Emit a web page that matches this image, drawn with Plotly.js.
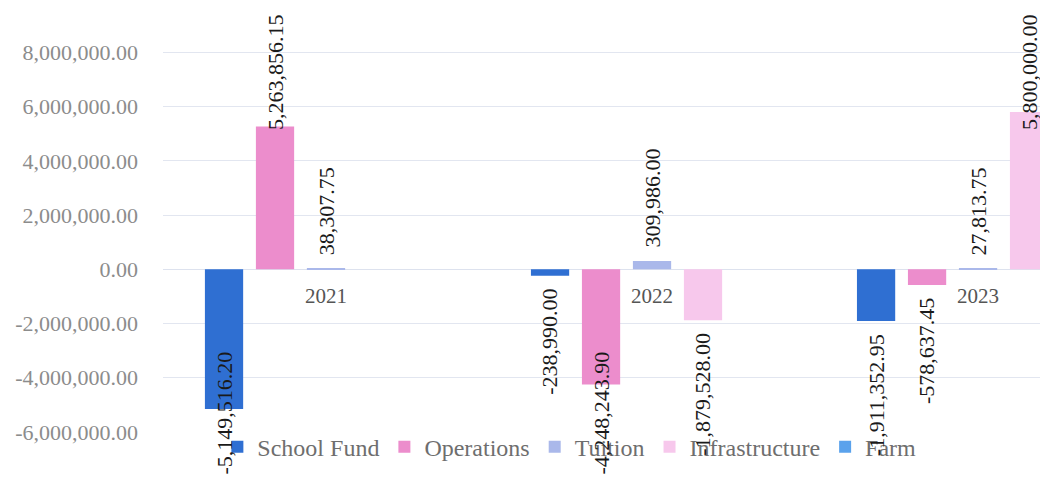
<!DOCTYPE html>
<html>
<head>
<meta charset="utf-8">
<script src="https://cdn.plot.ly/plotly-3.0.1.min.js"></script>
<style>
  html, body { margin: 0; padding: 0; background: #ffffff; }
  #chart { width: 1040px; height: 477px; }
</style>
</head>
<body>
<div id="chart"></div>
<script>
// ---- data ----
const years = ['2021', '2022', '2023'];
const seriesNames = ['School Fund', 'Operations', 'Tuition', 'Infrastructure', 'Farm'];
const schoolFund = [-5149516.20, -238990.00, -1911352.95];
const operations = [5263856.15, -4248243.90, -578637.45];
const tuition = [38307.75, 309986.00, 27813.75];
const infrastructure = [null, -1879528.00, 5800000.00];
const farm = [null, null, null];
const yTickValues = [-6000000, -4000000, -2000000, 0, 2000000, 4000000, 6000000, 8000000];

// ---- styling ----
const colors = ['#2f6fd2', '#ec8dcc', '#aab8ea', '#f7c8ec', '#5aa2ec'];
const seriesValues = [schoolFund, operations, tuition, infrastructure, farm];
const FAMILY = 'Liberation Serif';

const W = 1040, H = 477;
const margin = { l: 163, r: 0, t: 0, b: 45, pad: 0 };
const yRange = [-6000000, 9930000];
const xRange = [-0.5, 2.19];
const bargap = 0.218, bargroupgap = 0.25;
const LABEL_SIZE = 22;

const fmt = v => (v < 0 ? '-' : '') + Math.abs(v).toLocaleString('en-US', { minimumFractionDigits: 2, maximumFractionDigits: 2 });

const traces = seriesNames.map((name, i) => ({
  type: 'bar',
  name: name,
  x: years,
  y: seriesValues[i],
  marker: { color: colors[i], line: { width: 0 } },
  hoverinfo: 'skip'
}));

// value labels, placed from the data through the axis scales
const plotW = W - margin.l - margin.r;
const plotH = H - margin.t - margin.b;
const catPx = plotW / (xRange[1] - xRange[0]);
const slotPx = catPx * (1 - bargap) / seriesNames.length;
const yToPx = v => margin.t + plotH * (yRange[1] - v) / (yRange[1] - yRange[0]);

const canvas = document.createElement('canvas');
const ctx = canvas.getContext('2d');
ctx.font = LABEL_SIZE + 'px "' + FAMILY + '"';

const gap = 11;
const annotations = [];
seriesValues.forEach((vals, s) => {
  vals.forEach((v, c) => {
    if (v === null || v === undefined) return;
    const txt = fmt(v);
    const len = ctx.measureText(txt).width + 6;
    const endPx = yToPx(v);
    const ann = {
      x: c, xref: 'x', xshift: (s - (seriesNames.length - 1) / 2) * slotPx,
      text: txt, textangle: -90, showarrow: false,
      font: { family: FAMILY, size: LABEL_SIZE, color: '#1a1a1a' }
    };
    if (v >= 0) {
      if (endPx - gap - len < 12) {
        ann.yref = 'paper'; ann.y = 1 - (12 - margin.t) / plotH; ann.yanchor = 'top';
      } else {
        ann.yref = 'y'; ann.y = v; ann.yanchor = 'bottom'; ann.yshift = gap;
      }
    } else {
      if (endPx + gap + len > H) {
        ann.yref = 'paper'; ann.y = -(H - margin.t - plotH) / plotH; ann.yanchor = 'bottom';
      } else {
        ann.yref = 'y'; ann.y = v; ann.yanchor = 'top'; ann.yshift = -gap;
      }
    }
    annotations.push(ann);
  });
});

// category labels sit next to the zero line, as in the original
years.forEach((yr, c) => {
  annotations.push({
    x: c, xref: 'x', y: 0, yref: 'y', yanchor: 'middle', yshift: -27,
    text: yr, showarrow: false,
    font: { family: FAMILY, size: 21, color: '#555555' }
  });
});

const layout = {
  width: W, height: H,
  margin: margin,
  paper_bgcolor: '#ffffff',
  plot_bgcolor: '#ffffff',
  barmode: 'group',
  bargap: bargap,
  bargroupgap: bargroupgap,
  showlegend: true,
  legend: {
    orientation: 'h',
    x: 0.062, xanchor: 'left',
    y: -0.035, yanchor: 'middle',
    font: { family: FAMILY, size: 24, color: '#6e6e6e' },
    bgcolor: 'rgba(0,0,0,0)',
    itemwidth: 30,
    traceorder: 'normal'
  },
  xaxis: {
    type: 'category',
    categoryorder: 'array',
    categoryarray: years,
    range: xRange,
    showgrid: false,
    showline: false,
    zeroline: false,
    showticklabels: false,
    ticks: '',
    fixedrange: true
  },
  yaxis: {
    range: yRange,
    tickvals: yTickValues,
    ticktext: yTickValues.map(fmt),
    tickfont: { family: FAMILY, size: 22, color: '#8c8c8c' },
    showgrid: true,
    gridcolor: '#e2e6f0',
    gridwidth: 1,
    zeroline: true,
    zerolinecolor: '#dde2ee',
    zerolinewidth: 1,
    showline: false,
    ticks: '',
    ticklabelstandoff: 24,
    fixedrange: true
  },
  annotations: annotations
};

Plotly.newPlot('chart', traces, layout, { displayModeBar: false });
</script>
</body>
</html>
